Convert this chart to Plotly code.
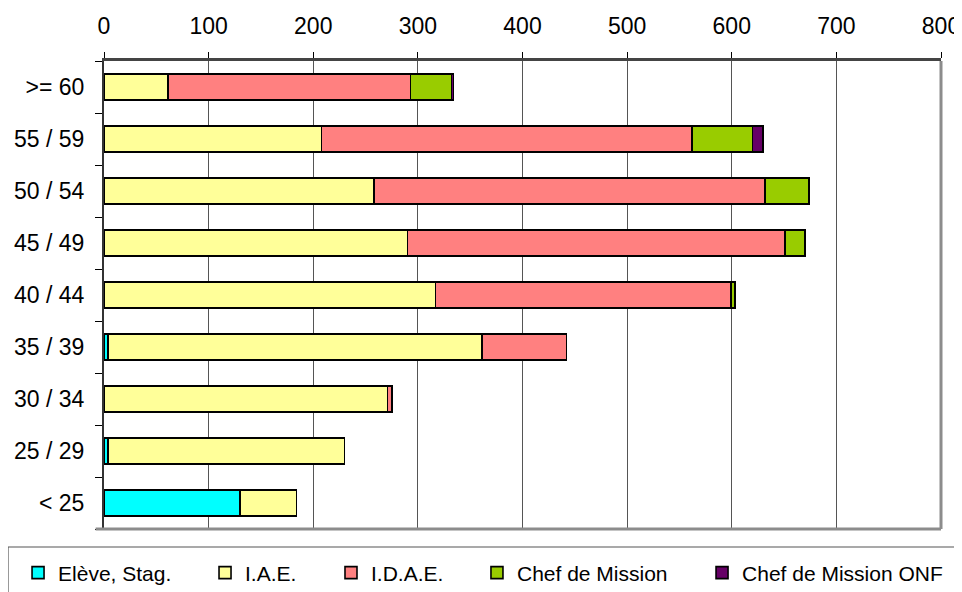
import plotly.graph_objects as go

categories = ["< 25", "25 / 29", "30 / 34", "35 / 39", "40 / 44",
              "45 / 49", "50 / 54", "55 / 59", ">= 60"]
eleve_stag = [130, 4, 0, 4, 0, 0, 0, 0, 0]
iae = [54, 226, 271, 357, 317, 290, 258, 208, 61]
idae = [0, 0, 4, 81, 282, 361, 374, 354, 232]
chef_mission = [0, 0, 0, 0, 4, 19, 42, 58, 39]
chef_mission_onf = [0, 0, 0, 0, 0, 0, 0, 10, 2]
x_ticks = [0, 100, 200, 300, 400, 500, 600, 700, 800]

series_names = ["Elève, Stag.", "I.A.E.", "I.D.A.E.", "Chef de Mission",
                "Chef de Mission ONF"]
series_values = [eleve_stag, iae, idae, chef_mission, chef_mission_onf]
series_colors = ["#00FFFF", "#FFFF99", "#FF8080", "#99CC00", "#660066"]
legend_ids = ["legend", "legend2", "legend3", "legend4", "legend5"]
legend_x = [-0.1027, 0.1207, 0.2712, 0.4456, 0.7145]

FONT = "Liberation Sans, Arial, sans-serif"

fig = go.Figure()
for name, vals, color, lid in zip(series_names, series_values, series_colors, legend_ids):
    fig.add_trace(go.Bar(
        y=categories,
        x=[v if v else None for v in vals],
        name=name,
        orientation="h",
        legend=lid,
        marker=dict(color=color, line=dict(color="black", width=1.6)),
    ))

legend_layouts = {}
for lid, lx in zip(legend_ids, legend_x):
    legend_layouts[lid] = dict(
        orientation="h",
        x=lx, xanchor="left",
        y=-0.094, yanchor="middle",
        font=dict(family=FONT, size=21, color="black"),
        bgcolor="rgba(0,0,0,0)",
        borderwidth=0,
    )

fig.update_layout(
    width=962, height=592,
    margin=dict(l=96, r=29, t=53, b=71, autoexpand=False),
    barmode="stack",
    bargap=0.5,
    plot_bgcolor="white",
    paper_bgcolor="white",
    font=dict(family=FONT, size=23, color="black"),
    showlegend=True,
    xaxis=dict(
        side="top",
        range=[0, 800],
        tickvals=x_ticks,
        ticks="outside",
        ticklen=6,
        tickcolor="black",
        ticklabelstandoff=9,
        tickfont=dict(size=23),
        showgrid=True,
        gridcolor="#555555",
        gridwidth=1,
        showline=True,
        linecolor="#444444",
        linewidth=2.5,
        zeroline=False,
        automargin=False,
        fixedrange=True,
    ),
    yaxis=dict(
        type="category",
        categoryorder="array",
        categoryarray=categories,
        tickson="boundaries",
        ticks="outside",
        ticklen=7,
        tickcolor="black",
        ticklabelstandoff=13,
        tickfont=dict(size=23),
        showline=True,
        linecolor="#333333",
        linewidth=2,
        showgrid=False,
        zeroline=False,
        automargin=False,
        fixedrange=True,
    ),
    shapes=[
        dict(type="line", xref="paper", yref="paper", x0=1, x1=1, y0=0, y1=1,
             line=dict(color="#8c8c8c", width=3)),
        dict(type="line", xref="paper", yref="paper", x0=-0.01, x1=1, y0=0, y1=0,
             line=dict(color="#8c8c8c", width=3)),
        dict(type="rect", xref="paper", yref="paper",
             x0=-0.1147, x1=1.05, y0=-0.0385, y1=-0.25,
             line=dict(color="#555555", width=1.2)),
    ],
)
fig.update_layout(**legend_layouts)

fig.write_html("out.html")
